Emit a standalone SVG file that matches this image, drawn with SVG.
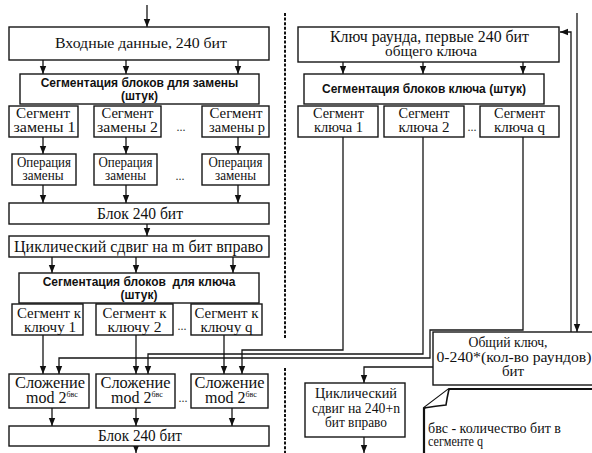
<svg xmlns="http://www.w3.org/2000/svg" width="592" height="453" viewBox="0 0 592 453">
<defs>
<style>
.b{fill:#fff;stroke:#151515;stroke-width:1.4}
.t{font-family:"Liberation Serif","Times New Roman",serif;fill:#111;text-anchor:middle}
.f13{font-size:13px}
.f14{font-size:14px}
.f15{font-size:15px}
.f16{font-size:16px}
.s{font-family:"Liberation Sans",Arial,sans-serif;font-weight:bold;font-size:12px;fill:#111;text-anchor:middle}
.c{fill:none;stroke:#151515;stroke-width:1.3}
.a{marker-end:url(#ar)}
.d{fill:none;stroke:#111;stroke-width:2;stroke-dasharray:3 1.6}
.dots{font-family:"Liberation Serif",serif;font-size:12px;fill:#333;text-anchor:middle}
.sup{font-size:8px}
.l{text-anchor:start}
</style>
<marker id="ar" markerUnits="userSpaceOnUse" markerWidth="8" markerHeight="8" refX="8" refY="4" orient="auto">
<path d="M0,0.8 L8,4 L0,7.2 z" fill="#111"/>
</marker>
</defs>
<rect width="592" height="453" fill="#fff"/>

<g id="dividers">
<path class="d" d="M285,13 V338"/>
<path class="d" d="M285,368 V453"/>
</g>

<g id="connectors">
<path class="c a" d="M147,5 V27"/>
<path class="c a" d="M43,60 V74"/>
<path class="c a" d="M126,60 V74"/>
<path class="c a" d="M238,60 V74"/>
<path class="c a" d="M43,137 V154"/>
<path class="c a" d="M126,137 V154"/>
<path class="c a" d="M238,137 V154"/>
<path class="c a" d="M43,185 V203"/>
<path class="c a" d="M126,185 V203"/>
<path class="c a" d="M238,185 V203"/>
<path class="c a" d="M147,224 V236"/>
<path class="c a" d="M52,257 V273"/>
<path class="c a" d="M136,257 V273"/>
<path class="c a" d="M233,257 V273"/>
<path class="c a" d="M43,335 V374"/>
<path class="c a" d="M136,335 V374"/>
<path class="c a" d="M224,335 V374"/>
<path class="c a" d="M343,137 V350 H242 V374"/>
<path class="c a" d="M423,137 V354 H148 V374"/>
<path class="c a" d="M523,137 V330 H430 V358 H59 V374"/>
<path class="c a" d="M52,408 V426"/>
<path class="c a" d="M136,408 V426"/>
<path class="c a" d="M232,408 V426"/>
<path class="c a" d="M136,446 V453"/>
<path class="c a" d="M343,62 V74"/>
<path class="c a" d="M423,62 V74"/>
<path class="c a" d="M523,62 V74"/>
<path class="c a" d="M577,13 V332"/>
<path class="c a" d="M571,332 V32 H560"/>
<path class="c a" d="M433,367 H364 V383"/>
<path class="c a" d="M364,437 V453"/>
</g>

<g id="input"><rect class="b" x="9" y="27" width="260" height="33"/><text class="t f15" x="141" y="48" textLength="172" lengthAdjust="spacingAndGlyphs">Входные данные, 240 бит</text></g>
<g id="seg-sub"><rect class="b" x="20" y="74" width="239" height="30"/><text class="s" x="139.5" y="86.5">Сегментация блоков для замены</text><text class="s" x="139.5" y="99.5">(штук)</text></g>
<g id="segsub1"><rect class="b" x="9" y="106" width="69" height="31"/><text class="t f15" x="43" y="118" textLength="54" lengthAdjust="spacingAndGlyphs">Сегмент</text><text class="t f15" x="44.5" y="132" textLength="62" lengthAdjust="spacingAndGlyphs">замены 1</text></g>
<g id="segsub2"><rect class="b" x="94" y="106" width="67" height="31"/><text class="t f15" x="127.5" y="118" textLength="52" lengthAdjust="spacingAndGlyphs">Сегмент</text><text class="t f15" x="127.5" y="132" textLength="61" lengthAdjust="spacingAndGlyphs">замены 2</text></g>
<g id="segsubp"><rect class="b" x="202" y="106" width="67" height="31"/><text class="t f15" x="236" y="118" textLength="53" lengthAdjust="spacingAndGlyphs">Сегмент</text><text class="t f15" x="237" y="132" textLength="56" lengthAdjust="spacingAndGlyphs">замены p</text></g>
<text class="dots" x="181" y="131">...</text>
<g id="op1"><rect class="b" x="12" y="154" width="64" height="31"/><text class="t f14" x="44" y="167" textLength="54" lengthAdjust="spacingAndGlyphs">Операция</text><text class="t f14" x="43" y="180" textLength="41" lengthAdjust="spacingAndGlyphs">замены</text></g>
<g id="op2"><rect class="b" x="94" y="154" width="63" height="31"/><text class="t f14" x="125.5" y="167" textLength="54" lengthAdjust="spacingAndGlyphs">Операция</text><text class="t f14" x="125.5" y="180" textLength="41" lengthAdjust="spacingAndGlyphs">замены</text></g>
<g id="op3"><rect class="b" x="202" y="154" width="67" height="31"/><text class="t f14" x="235.5" y="167" textLength="54" lengthAdjust="spacingAndGlyphs">Операция</text><text class="t f14" x="235.5" y="180" textLength="41" lengthAdjust="spacingAndGlyphs">замены</text></g>
<text class="dots" x="180" y="180">...</text>
<g id="block1"><rect class="b" x="9" y="203" width="260" height="21"/><text class="t f16" x="140" y="219" textLength="86" lengthAdjust="spacingAndGlyphs">Блок 240 бит</text></g>
<g id="shift-m"><rect class="b" x="9" y="236" width="260" height="21"/><text class="t f16" x="138.5" y="252" textLength="249" lengthAdjust="spacingAndGlyphs">Циклический сдвиг на m бит вправо</text></g>
<g id="seg-key-l"><rect class="b" x="19" y="273" width="240" height="30"/><text class="s" x="139" y="285.5" xml:space="preserve">Сегментация блоков  для ключа</text><text class="s" x="139" y="298.5">(штук)</text></g>
<g id="segk1"><rect class="b" x="12" y="304" width="71" height="31"/><text class="t f15" x="49" y="317.5" textLength="64" lengthAdjust="spacingAndGlyphs">Сегмент к</text><text class="t f15" x="50" y="331.5" textLength="52" lengthAdjust="spacingAndGlyphs">ключу 1</text></g>
<g id="segk2"><rect class="b" x="96" y="304" width="77" height="31"/><text class="t f15" x="134.5" y="317.5" textLength="64" lengthAdjust="spacingAndGlyphs">Сегмент к</text><text class="t f15" x="134.5" y="331.5" textLength="54" lengthAdjust="spacingAndGlyphs">ключу 2</text></g>
<g id="segkq"><rect class="b" x="191" y="304" width="71" height="31"/><text class="t f15" x="226.5" y="317.5" textLength="64" lengthAdjust="spacingAndGlyphs">Сегмент к</text><text class="t f15" x="226.5" y="331.5" textLength="52" lengthAdjust="spacingAndGlyphs">ключу q</text></g>
<text class="dots" x="182" y="330">...</text>
<g id="add1"><rect class="b" x="9" y="374" width="80" height="34"/><text class="t f16" x="50" y="388" textLength="70" lengthAdjust="spacingAndGlyphs">Сложение</text><text class="t f16" x="52" y="403">mod 2<tspan class="sup" dy="-6">бвс</tspan></text></g>
<g id="add2"><rect class="b" x="96" y="374" width="79" height="34"/><text class="t f16" x="135.5" y="388" textLength="70" lengthAdjust="spacingAndGlyphs">Сложение</text><text class="t f16" x="137" y="403">mod 2<tspan class="sup" dy="-6">бвс</tspan></text></g>
<g id="addq"><rect class="b" x="191" y="374" width="77" height="34"/><text class="t f16" x="229.5" y="388" textLength="70" lengthAdjust="spacingAndGlyphs">Сложение</text><text class="t f16" x="231" y="403">mod 2<tspan class="sup" dy="-6">бвс</tspan></text></g>
<text class="dots" x="183" y="402">...</text>
<g id="block2"><rect class="b" x="9" y="426" width="260" height="20"/><text class="t f16" x="140" y="441" textLength="84" lengthAdjust="spacingAndGlyphs">Блок 240 бит</text></g>

<g id="roundkey"><rect class="b" x="298" y="27" width="261" height="35"/><text class="t f16" x="429.5" y="42" textLength="199" lengthAdjust="spacingAndGlyphs">Ключ раунда, первые 240 бит</text><text class="t f15" x="431" y="56" textLength="92" lengthAdjust="spacingAndGlyphs">общего ключа</text></g>
<g id="seg-key-r"><rect class="b" x="304" y="74" width="240" height="30"/><text class="s" x="424" y="93">Сегментация блоков ключа (штук)</text></g>
<g id="sk1"><rect class="b" x="298" y="106" width="80" height="31"/><text class="t f15" x="338.5" y="118" textLength="51" lengthAdjust="spacingAndGlyphs">Сегмент</text><text class="t f15" x="338.5" y="132" textLength="49" lengthAdjust="spacingAndGlyphs">ключа 1</text></g>
<g id="sk2"><rect class="b" x="384" y="106" width="80" height="31"/><text class="t f15" x="424" y="118" textLength="51" lengthAdjust="spacingAndGlyphs">Сегмент</text><text class="t f15" x="424" y="132" textLength="51" lengthAdjust="spacingAndGlyphs">ключа 2</text></g>
<g id="skq"><rect class="b" x="480" y="106" width="79" height="31"/><text class="t f15" x="519.5" y="118" textLength="51" lengthAdjust="spacingAndGlyphs">Сегмент</text><text class="t f15" x="519.5" y="132" textLength="51" lengthAdjust="spacingAndGlyphs">ключа q</text></g>
<text class="dots" x="472" y="131">...</text>
<g id="mainkey"><rect class="b" x="433" y="332" width="170" height="53"/><text class="t f15" x="508" y="347" textLength="79" lengthAdjust="spacingAndGlyphs">Общий ключ,</text><text class="t f15" x="514" y="362" textLength="155" lengthAdjust="spacingAndGlyphs">0-240*(кол-во раундов)</text><text class="t f15" x="513" y="376">бит</text></g>
<g id="shift-n"><rect class="b" x="305" y="383" width="100" height="54"/><text class="t f14" x="356" y="398" textLength="82" lengthAdjust="spacingAndGlyphs">Циклический</text><text class="t f14" x="356" y="413" textLength="88" lengthAdjust="spacingAndGlyphs">сдвиг на 240+n</text><text class="t f14" x="356" y="427" textLength="62" lengthAdjust="spacingAndGlyphs">бит вправо</text></g>
<g id="note">
<path d="M424,456 V408 L449,389 H600" fill="#fff" stroke="#111" stroke-width="2.2"/>
<path d="M449,389 Q447,398 446,405 Q436,406 424,408" fill="#fff" stroke="#111" stroke-width="1.6"/>
<text class="t f14 l" x="428" y="433" textLength="133" lengthAdjust="spacingAndGlyphs">бвс - количество бит в</text>
<text class="t f14 l" x="428" y="446" textLength="55" lengthAdjust="spacingAndGlyphs">сегменте q</text>
</g>
</svg>
